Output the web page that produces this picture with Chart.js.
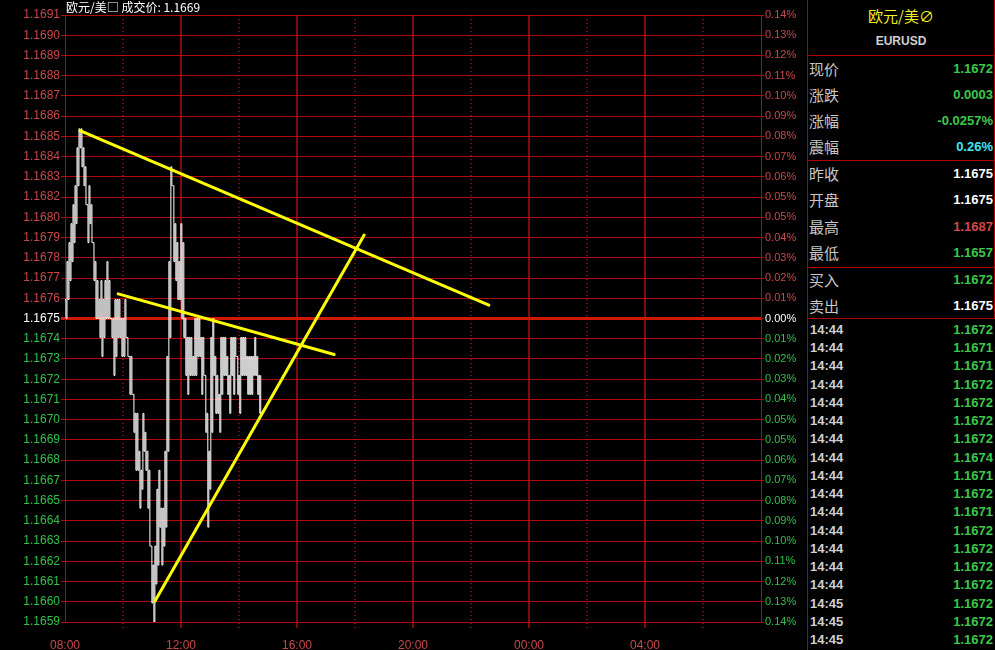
<!DOCTYPE html>
<html>
<head>
<meta charset="utf-8">
<script src="https://cdn.jsdelivr.net/npm/chart.js@4/dist/chart.umd.min.js"></script>
<style>
    body { margin: 0; background: #000; width: 995px; height: 650px; overflow: hidden; }
    #wrap { position: relative; width: 995px; height: 650px; background: #000; }
    #chartBox { position: absolute; left: 0; top: 0; width: 807px; height: 650px; }
    #title { position: absolute; left: 66px; top: 0; color: #fff; font: 12px "Noto Sans CJK SC", sans-serif; line-height: 14px; background: #000; padding-right: 2px; }
    #panel { position: absolute; left: 807px; top: 0; width: 188px; height: 650px; border-left: 1px solid #b00000; box-sizing: border-box; }
    #panel .box { position: absolute; left: 0; width: 187px; box-sizing: border-box; border-right: 1px solid #b00000; border-bottom: 1px solid #b00000; }
    #panel .row { position: absolute; left: 0; width: 185px; height: 20px; }
    #panel .lab { position: absolute; left: 1px; top: 0; color: #c8c8c8; font: 15px "Noto Sans CJK SC", sans-serif; line-height: 20px; }
    #panel .val { position: absolute; right: 0; top: 0; font: bold 13px "Liberation Sans", Arial, sans-serif; line-height: 20px; }
    #panel .time { position: absolute; left: 2px; top: 0; color: #d0d0d0; font: bold 13px "Liberation Sans", Arial, sans-serif; line-height: 20px; }
</style>
</head>
<body>
<div id="wrap">
    <div id="chartBox"><canvas id="priceChart" width="807" height="650"></canvas></div>
    <div id="title">欧元/美□ 成交价: 1.1669</div>
    <div id="panel"></div>
</div>
<script>
// 价格区间 (昨收 ±0.14%)
const priceMin = 1.1659;
const priceMax = 1.1691;
const prevClose = 1.1675;

// 左轴标签 (从上到下)
const leftTickLabels = [
    '1.1691', '1.1690', '1.1689', '1.1688', '1.1687', '1.1686', '1.1685', '1.1684',
    '1.1683', '1.1682', '1.1680', '1.1679', '1.1678', '1.1677', '1.1676', '1.1675',
    '1.1674', '1.1673', '1.1672', '1.1671', '1.1670', '1.1669', '1.1668', '1.1667',
    '1.1665', '1.1664', '1.1663', '1.1662', '1.1661', '1.1660', '1.1659'
];
// 右轴百分比 (从上到下)
const rightTickLabels = [
    '0.14%', '0.13%', '0.12%', '0.11%', '0.10%', '0.09%', '0.08%', '0.07%',
    '0.06%', '0.05%', '0.05%', '0.04%', '0.03%', '0.02%', '0.01%', '0.00%',
    '0.01%', '0.02%', '0.03%', '0.04%', '0.05%', '0.05%', '0.06%', '0.07%',
    '0.08%', '0.09%', '0.10%', '0.11%', '0.12%', '0.13%', '0.14%'
];
// 时间轴 (每 2 小时一格, 08:00 开始)
const timeTickLabels = ['08:00', '', '12:00', '', '16:00', '', '20:00', '', '00:00', '', '04:00', '', ''];

// 分时成交价 08:00 ~ 14:45
const closeSeries = [
    1.1676, 1.1675, 1.1678, 1.1676, 1.1679, 1.1677, 1.1680, 1.1678, 1.1681, 1.1679,
    1.1682, 1.1680, 1.1684, 1.1682, 1.1685, 1.1684, 1.1685, 1.1683, 1.1684, 1.1682,
    1.1683, 1.1681, 1.1681, 1.1679, 1.1682, 1.1680, 1.1681, 1.1679, 1.1679, 1.1677,
    1.1678, 1.1675, 1.1677, 1.1675, 1.1676, 1.1674, 1.1677, 1.1673, 1.1676, 1.1674,
    1.1677, 1.1675, 1.1678, 1.1675, 1.1677, 1.1675, 1.1675, 1.1674, 1.1675, 1.1672,
    1.1676, 1.1673, 1.1676, 1.1674, 1.1676, 1.1674, 1.1675, 1.1673, 1.1675, 1.1673,
    1.1676, 1.1674, 1.1674, 1.1673, 1.1673, 1.1671, 1.1673, 1.1671, 1.1671, 1.1669,
    1.1670, 1.1667, 1.1670, 1.1667, 1.1668, 1.1665, 1.1667, 1.1666, 1.1670, 1.1668,
    1.1669, 1.1667, 1.1668, 1.1665, 1.1667, 1.1663, 1.1663, 1.1660, 1.1662, 1.1659,
    1.1663, 1.1661, 1.1666, 1.1662, 1.1667, 1.1664, 1.1665, 1.1662, 1.1665, 1.1663,
    1.1668, 1.1664, 1.1673, 1.1668, 1.1678, 1.1674, 1.1683, 1.1682, 1.1682, 1.1678,
    1.1680, 1.1677, 1.1679, 1.1676, 1.1678, 1.1676, 1.1680, 1.1675, 1.1679, 1.1674,
    1.1675, 1.1672, 1.1674, 1.1671, 1.1674, 1.1672, 1.1674, 1.1672, 1.1673, 1.1672,
    1.1675, 1.1672, 1.1675, 1.1673, 1.1675, 1.1673, 1.1674, 1.1671, 1.1674, 1.1672,
    1.1672, 1.1669, 1.1670, 1.1664, 1.1668, 1.1666, 1.1674, 1.1669, 1.1675, 1.1672,
    1.1673, 1.1670, 1.1672, 1.1670, 1.1671, 1.1669, 1.1674, 1.1671, 1.1674, 1.1672,
    1.1674, 1.1672, 1.1673, 1.1671, 1.1672, 1.1670, 1.1674, 1.1672, 1.1674, 1.1671,
    1.1674, 1.1673, 1.1673, 1.1671, 1.1672, 1.1670, 1.1674, 1.1672, 1.1674, 1.1672,
    1.1674, 1.1672, 1.1673, 1.1671, 1.1673, 1.1671, 1.1673, 1.1671, 1.1673, 1.1672,
    1.1674, 1.1672, 1.1673, 1.1671, 1.1672, 1.1670, 1.1672
];
const seriesEndMinute = 405; // 14:45

// 趋势线 (分钟, 价格)
const trendLineA = [[31, 1.16849], [877, 1.16757]];
const trendLineB = [[110, 1.16763], [557, 1.16731]];
const trendLineC = [[186, 1.16601], [619, 1.16794]];

// 右侧报价面板
const quoteLabels = ['现价', '涨跌', '涨幅', '震幅'];
const quoteValues = ['1.1672', '0.0003', '-0.0257%', '0.26%'];
const quoteColors = ['#3cc84a', '#3cc84a', '#3cc84a', '#3ee8f0'];
const dayLabels = ['昨收', '开盘', '最高', '最低'];
const dayValues = ['1.1675', '1.1675', '1.1687', '1.1657'];
const dayColors = ['#ffffff', '#ffffff', '#d04848', '#3cc84a'];
const bidAskLabels = ['买入', '卖出'];
const bidAskValues = ['1.1672', '1.1675'];
const bidAskColors = ['#3cc84a', '#ffffff'];
const tradeTimes = ['14:44', '14:44', '14:44', '14:44', '14:44', '14:44', '14:44', '14:44', '14:44',
    '14:44', '14:44', '14:44', '14:44', '14:44', '14:44', '14:45', '14:45', '14:45'];
const tradePrices = ['1.1672', '1.1671', '1.1671', '1.1672', '1.1672', '1.1672', '1.1672', '1.1674', '1.1671',
    '1.1672', '1.1671', '1.1672', '1.1672', '1.1672', '1.1672', '1.1672', '1.1672', '1.1672'];

const GRID_RED = '#b00a0a';
const LABEL_RED = '#c84848';
const LABEL_GREEN = '#30c048';

function buildPanel() {
    const panel = document.getElementById('panel');
    let html = '';
    html += `<div class="box" style="top:0;height:56px">
        <div style="position:absolute;left:0;width:186px;top:5px;text-align:center;color:#f0f020;font:15px 'Noto Sans CJK SC',sans-serif">欧元/美∅</div>
        <div style="position:absolute;left:0;width:186px;top:34px;text-align:center;color:#d0d0d0;font:bold 12px 'Liberation Sans',Arial,sans-serif">EURUSD</div>
    </div>`;
    const block = (top, height, labels, values, colors, firstY, step) => {
        let s = `<div class="box" style="top:${top}px;height:${height}px">`;
        labels.forEach((lab, i) => {
            const y = firstY + i * step - top - 10;
            s += `<div class="row" style="top:${y}px"><span class="lab">${lab}</span><span class="val" style="color:${colors[i]}">${values[i]}</span></div>`;
        });
        return s + '</div>';
    };
    html += block(55, 106, quoteLabels, quoteValues, quoteColors, 69, 26);
    html += block(160, 108, dayLabels, dayValues, dayColors, 174, 26.3);
    html += block(267, 52, bidAskLabels, bidAskValues, bidAskColors, 280, 25.5);
    tradeTimes.forEach((t, i) => {
        const y = 330 + i * 18.24 - 10;
        html += `<div class="row" style="top:${y}px"><span class="time">${t}</span><span class="val" style="color:#3cc84a">${tradePrices[i]}</span></div>`;
    });
    panel.innerHTML = html;
}

function gridTicks(axis) {
    axis.ticks = [];
    for (let i = 0; i <= 30; i++) {
        axis.ticks.push({ value: priceMin + i * (priceMax - priceMin) / 30 });
    }
}

function labelColor(index) {
    if (index === 15) return '#ffffff';
    return index > 15 ? LABEL_RED : LABEL_GREEN;
}

// 竖向网格: 4 小时实线, 2 小时虚线
const timeGridPlugin = {
    id: 'timeGrid',
    beforeDatasetsDraw(chart) {
        const { ctx, chartArea, scales } = chart;
        ctx.save();
        ctx.strokeStyle = '#d01414';
        ctx.lineWidth = 1.2;
        for (let i = 1; i < 12; i++) {
            const px = Math.round(scales.x.getPixelForValue(i * 120));
            ctx.setLineDash(i % 2 === 0 ? [] : [1, 3]);
            ctx.beginPath();
            ctx.moveTo(px, chartArea.top);
            ctx.lineTo(px, chartArea.bottom + (i % 2 === 0 ? 6 : 8));
            ctx.stroke();
        }
        ctx.restore();
    }
};

function renderChart() {
    const ctx = document.getElementById('priceChart');
    const step = seriesEndMinute / (closeSeries.length - 1);
    const toPoints = line => line.map(p => ({ x: p[0], y: p[1] }));
    const trendStyle = { borderColor: '#ffff00', borderWidth: 3, pointRadius: 0, order: 0, borderCapStyle: 'round' };

    new Chart(ctx, {
        type: 'line',
        data: {
            datasets: [
                { ...trendStyle, data: toPoints(trendLineA) },
                { ...trendStyle, data: toPoints(trendLineB) },
                { ...trendStyle, data: toPoints(trendLineC) },
                {
                    data: closeSeries.map((p, i) => ({ x: i * step, y: p })),
                    borderColor: '#ffffff',
                    borderWidth: 1,
                    stepped: true,
                    pointRadius: 0,
                    order: 1
                }
            ]
        },
        options: {
            responsive: false,
            animation: false,
            devicePixelRatio: 1,
            layout: { padding: { top: 15, left: 0, right: 0, bottom: 0 } },
            plugins: { legend: { display: false }, tooltip: { enabled: false } },
            scales: {
                x: {
                    type: 'linear',
                    min: 0,
                    max: 1440,
                    afterBuildTicks: axis => {
                        axis.ticks = timeTickLabels.map((_, i) => ({ value: i * 120 }));
                    },
                    afterFit: axis => { axis.height = 28; },
                    grid: { display: false },
                    border: { display: false },
                    ticks: {
                        autoSkip: false,
                        maxRotation: 0,
                        padding: 8,
                        color: LABEL_RED,
                        font: { family: '"Liberation Sans", Arial, sans-serif', size: 12 },
                        callback: (v, i) => timeTickLabels[i]
                    }
                },
                y: {
                    position: 'left',
                    min: priceMin,
                    max: priceMax,
                    afterBuildTicks: gridTicks,
                    afterFit: axis => { axis.width = 65; },
                    grid: {
                        color: ctx => ctx.index === 15 ? '#d01800' : GRID_RED,
                        lineWidth: ctx => ctx.index === 15 ? 3 : 1,
                        tickLength: 4
                    },
                    border: { color: GRID_RED },
                    ticks: {
                        padding: 1,
                        color: ctx => labelColor(ctx.index),
                        font: { family: '"Liberation Sans", Arial, sans-serif', size: 12 },
                        callback: (v, i) => leftTickLabels[30 - i]
                    }
                },
                y2: {
                    position: 'right',
                    min: priceMin,
                    max: priceMax,
                    afterBuildTicks: gridTicks,
                    afterFit: axis => { axis.width = 46; },
                    grid: { drawOnChartArea: false, color: GRID_RED, tickLength: 3 },
                    border: { color: GRID_RED },
                    ticks: {
                        padding: 1,
                        color: ctx => labelColor(ctx.index),
                        font: { family: '"Liberation Sans", Arial, sans-serif', size: 11 },
                        callback: (v, i) => rightTickLabels[30 - i]
                    }
                }
            }
        },
        plugins: [timeGridPlugin]
    });
}

buildPanel();
renderChart();
</script>
</body>
</html>
